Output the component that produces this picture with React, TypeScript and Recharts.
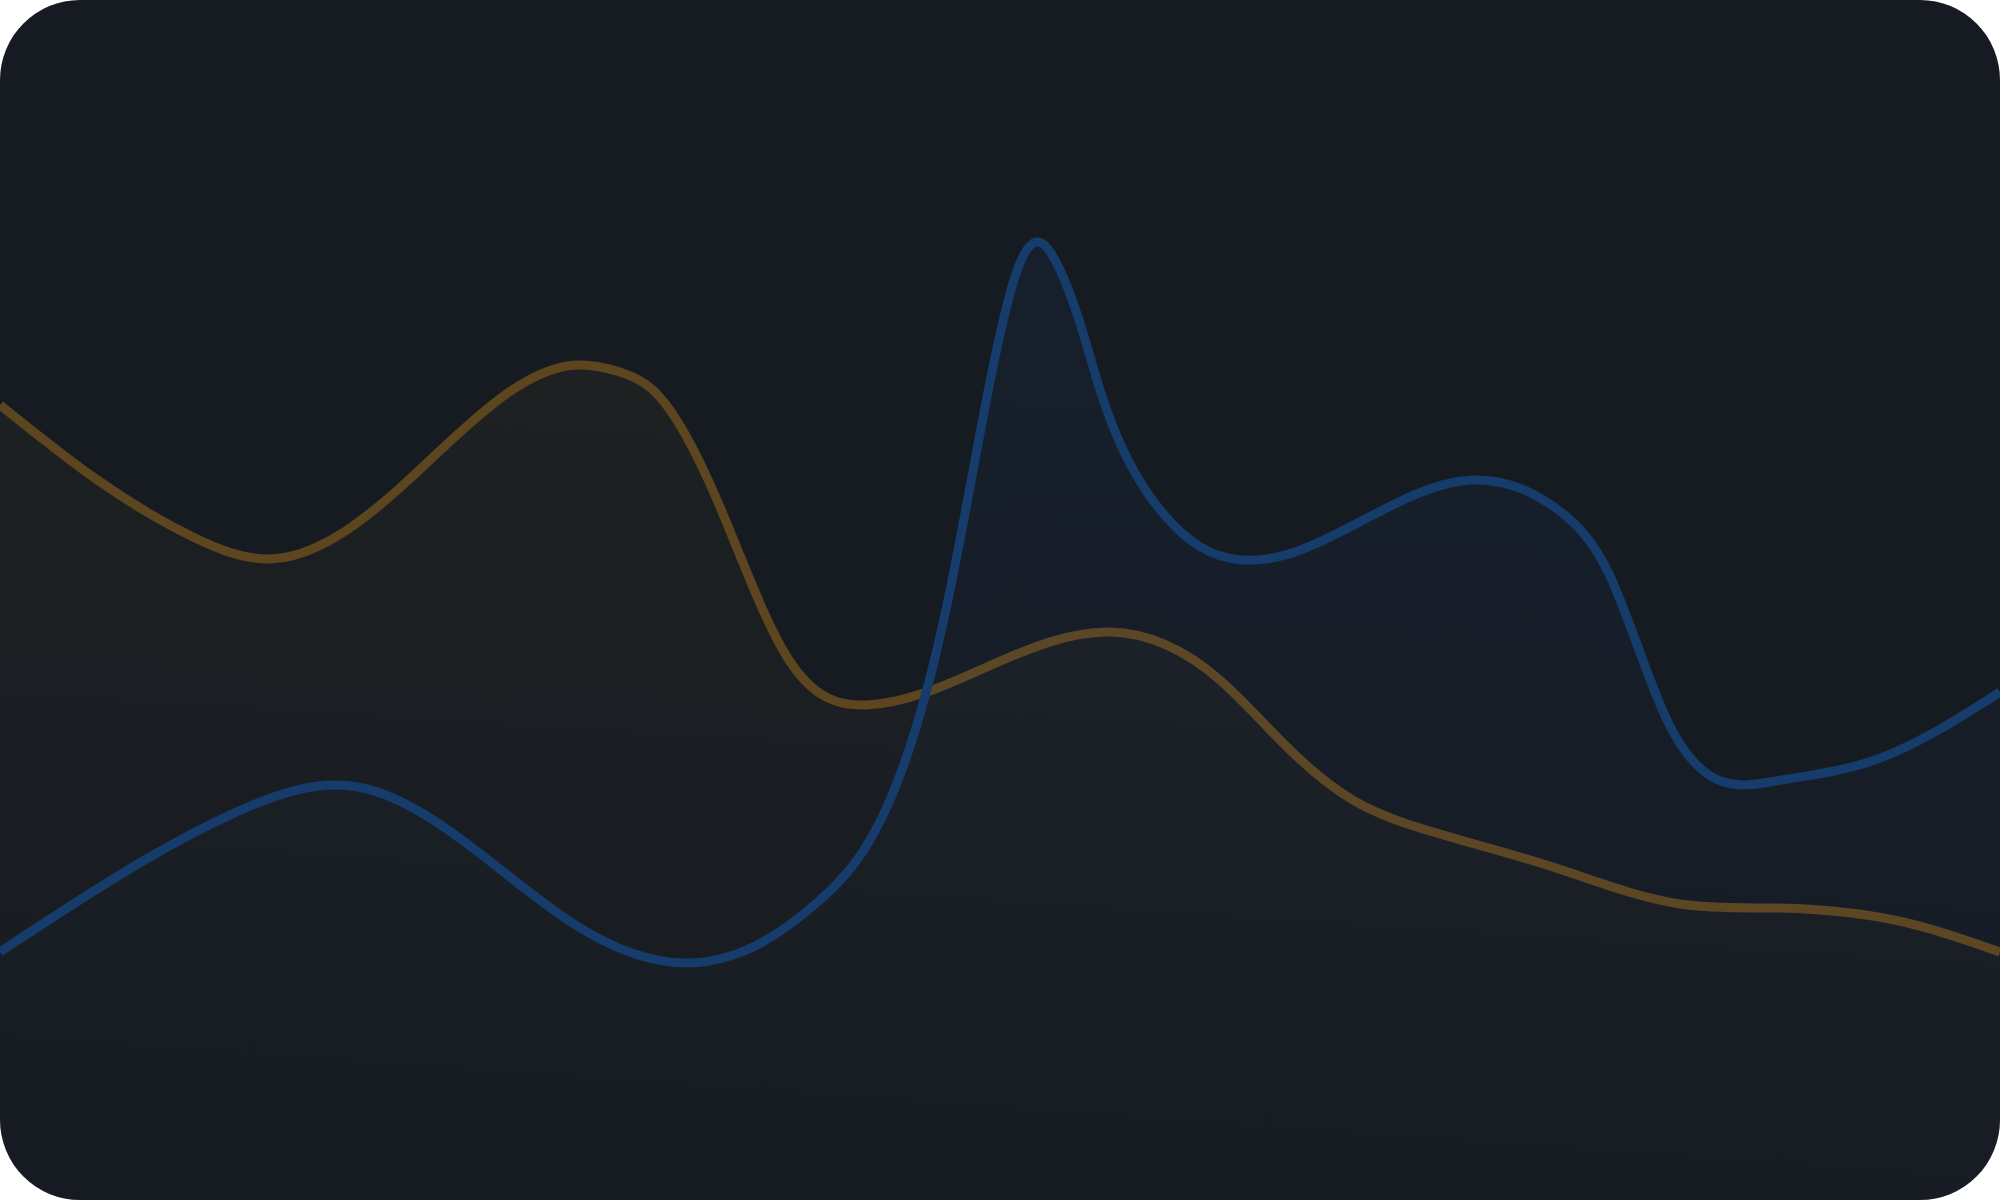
import React from 'react';
import { AreaChart, Area, XAxis, YAxis } from 'recharts';

// values (x: 0-100, y: 0-100)
const orangeX = [0, 4.8, 9.55, 13.5, 20.1, 28.8, 31.0, 32.65, 36.0, 39.35, 43.35, 49.35, 55.5, 61.0, 64.35, 67.65, 71.0, 77.65, 84.0, 88.8, 96.0, 100];
const orangeY = [66.25, 60.08, 55.33, 53.42, 59.5, 69.58, 69.0, 67.5, 57.75, 45.25, 41.25, 44.42, 47.33, 43.33, 37.75, 33.33, 31.0, 27.75, 24.67, 24.33, 22.83, 20.67];

const blueX = [0, 7.15, 11.95, 17.6, 23.9, 28.7, 34.3, 37.65, 41.0, 43.5, 45.15, 47.4, 49.35, 51.0, 51.85, 53.0, 54.0, 55.0, 57.55, 59.95, 62.1, 73.6, 78.05, 80.45, 83.3, 88.8, 93.6, 100];
const blueY = [20.67, 28.25, 32.42, 34.5, 29.0, 23.0, 19.75, 21.08, 25.0, 30.0, 36.08, 50.0, 66.92, 78.08, 79.83, 77.5, 73.08, 67.5, 58.5, 54.5, 53.33, 60.0, 57.33, 52.17, 40.17, 34.92, 36.58, 42.33];

const W = 2000;
const H = 1200;

function buildRows() {
    const rows = new Map<number, any>();
    orangeX.forEach((x, i) => {
        const r = rows.get(x) || { x };
        r.orange = orangeY[i];
        rows.set(x, r);
    });
    blueX.forEach((x, i) => {
        const r = rows.get(x) || { x };
        r.blue = blueY[i];
        rows.set(x, r);
    });
    return Array.from(rows.values()).sort((a, b) => a.x - b.x);
}

// natural cubic spline in x: slopes at every point
function splineSlopes(xs: number[], ys: number[]) {
    const n = xs.length;
    const h: number[] = [];
    const s: number[] = [];
    for (let i = 0; i < n - 1; i++) {
        h.push(xs[i + 1] - xs[i]);
        s.push((ys[i + 1] - ys[i]) / h[i]);
    }
    const M = new Array(n).fill(0);
    const m = n - 2;
    if (m > 0) {
        const a: number[] = [], b: number[] = [], c: number[] = [], r: number[] = [];
        for (let i = 1; i < n - 1; i++) {
            a.push(h[i - 1]);
            b.push(2 * (h[i - 1] + h[i]));
            c.push(h[i]);
            r.push(6 * (s[i] - s[i - 1]));
        }
        for (let i = 1; i < m; i++) {
            const w = a[i] / b[i - 1];
            b[i] -= w * c[i - 1];
            r[i] -= w * r[i - 1];
        }
        M[m] = r[m - 1] / b[m - 1];
        for (let i = m - 2; i >= 0; i--) M[i + 1] = (r[i] - c[i] * M[i + 2]) / b[i];
    }
    const t: number[] = [];
    for (let i = 0; i < n - 1; i++) t.push(s[i] - (h[i] * (2 * M[i] + M[i + 1])) / 6);
    t.push(s[n - 2] + (h[n - 2] * (M[n - 2] + 2 * M[n - 1])) / 6);
    return t;
}

const splineX = (context: any) => {
    let xs: number[] = [];
    let ys: number[] = [];
    let line = NaN;
    return {
        areaStart() { line = 0; },
        areaEnd() { line = NaN; },
        lineStart() { xs = []; ys = []; },
        point(x: number, y: number) { xs.push(+x); ys.push(+y); },
        lineEnd() {
            const n = xs.length;
            if (n > 0) {
                if (line) context.lineTo(xs[0], ys[0]);
                else context.moveTo(xs[0], ys[0]);
            }
            if (n === 2) context.lineTo(xs[1], ys[1]);
            if (n > 2) {
                const t = splineSlopes(xs, ys);
                for (let i = 0; i < n - 1; i++) {
                    const d = (xs[i + 1] - xs[i]) / 3;
                    context.bezierCurveTo(
                        xs[i] + d, ys[i] + d * t[i],
                        xs[i + 1] - d, ys[i + 1] - d * t[i + 1],
                        xs[i + 1], ys[i + 1]
                    );
                }
            }
            if (line || (line !== 0 && n === 1)) context.closePath();
            line = 1 - line;
        },
    };
};

export default function App() {
    const data = React.useMemo(buildRows, []);

    return (
        <>
            <style>{`body{margin:0;background:#fff;}`}</style>
            <div
                style={{
                    position: 'absolute',
                    top: 0,
                    left: 0,
                    width: W,
                    height: H,
                    borderRadius: 80,
                    overflow: 'hidden',
                    background: '#161b22',
                }}
            >
                <AreaChart width={W} height={H} data={data} margin={{ top: 0, right: 0, bottom: 0, left: 0 }}>
                    <defs>
                        <linearGradient id="fillOrange" x1="0.15" y1="0" x2="0" y2="1">
                            <stop offset="0%" stopColor="#d29922" stopOpacity={0.07} />
                            <stop offset="55%" stopColor="#d29922" stopOpacity={0.03} />
                            <stop offset="100%" stopColor="#d29922" stopOpacity={0} />
                        </linearGradient>
                        <linearGradient id="fillBlue" x1="0.15" y1="0" x2="0" y2="1">
                            <stop offset="0%" stopColor="#1f6feb" stopOpacity={0.08} />
                            <stop offset="60%" stopColor="#1f6feb" stopOpacity={0.03} />
                            <stop offset="100%" stopColor="#1f6feb" stopOpacity={0} />
                        </linearGradient>
                    </defs>
                    <XAxis dataKey="x" type="number" domain={[0, 100]} hide />
                    <YAxis type="number" domain={[0, 100]} hide />
                    <Area
                        type={splineX as any}
                        dataKey="orange"
                        stroke="#5d4520"
                        strokeWidth={9}
                        fill="url(#fillOrange)"
                        connectNulls
                        dot={false}
                        activeDot={false}
                        isAnimationActive={false}
                    />
                    <Area
                        type={splineX as any}
                        dataKey="blue"
                        stroke="#153c6a"
                        strokeWidth={9}
                        fill="url(#fillBlue)"
                        connectNulls
                        dot={false}
                        activeDot={false}
                        isAnimationActive={false}
                    />
                </AreaChart>
            </div>
        </>
    );
}
